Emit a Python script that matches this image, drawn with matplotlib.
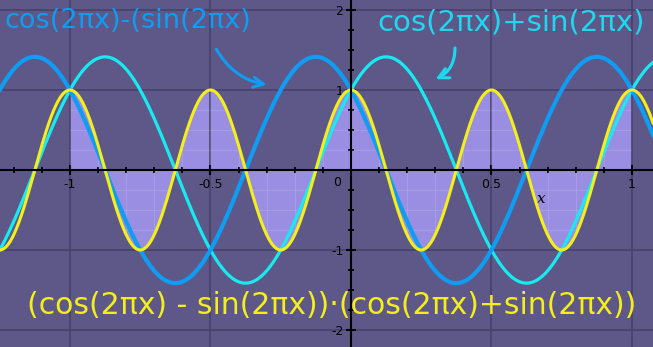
import numpy as np
import matplotlib
matplotlib.use('Agg')
import matplotlib.pyplot as plt
from matplotlib.ticker import MultipleLocator

# curves plotted in the picture
freq = 2 * np.pi
x_lo, x_hi = -1.249, 1.075
fill_lo, fill_hi = -1.0, 1.0

x = np.linspace(x_lo, x_hi, 1200)
minus = np.cos(freq * x) - np.sin(freq * x)
plus = np.cos(freq * x) + np.sin(freq * x)
prod = minus * plus

xticks = [-1, -0.5, 0.5, 1]
xlabels = ['-1', '-0.5', '0.5', '1']
yticks = [-2, -1, 1, 2]
ylabels = ['-2', '-1', '1', '2']

bg = '#5d5888'
fig = plt.figure(figsize=(6.53, 3.47), dpi=100)
fig.patch.set_facecolor(bg)
ax = fig.add_axes([0, 0, 1, 1])
ax.set_facecolor(bg)
ax.set_xlim(x_lo, x_hi)
ax.set_ylim(-2.2125, 2.125)

ax.xaxis.set_minor_locator(MultipleLocator(0.1))
ax.yaxis.set_minor_locator(MultipleLocator(0.25))
ax.set_xticks(xticks)
ax.set_yticks(yticks)
ax.grid(which='major', color='#47426c', lw=1.2, zorder=0)

# shaded area
m = (x >= fill_lo) & (x <= fill_hi)
shade = ax.fill_between(x[m], prod[m], 0, color='#9a8ee2', lw=0, zorder=1)

# faint minor grid, only seen inside the shading
clip = shade.get_paths()[0]
for v in np.arange(-1.2, 1.1, 0.1):
    ln = ax.axvline(v, color='white', alpha=0.12, lw=0.8, zorder=2)
    ln.set_clip_path(clip, ax.transData)
for h in np.arange(-2, 2.1, 0.25):
    ln = ax.axhline(h, color='white', alpha=0.12, lw=0.8, zorder=2)
    ln.set_clip_path(clip, ax.transData)

ax.plot(x, plus, color='#18eaf2', lw=2.3, zorder=4)
ax.plot(x, minus, color='#109cf2', lw=3.0, zorder=5)
ax.plot(x, prod, color='#f4ee1c', lw=2.2, zorder=6)

# axes through origin
for s in ['top', 'right']:
    ax.spines[s].set_visible(False)
for s in ['left', 'bottom']:
    ax.spines[s].set_position('zero')
    ax.spines[s].set_color('black')
    ax.spines[s].set_linewidth(1.5)
    ax.spines[s].set_zorder(7)
ax.set_xticklabels(xlabels, fontsize=9)
ax.set_yticklabels(ylabels, fontsize=9)
ax.tick_params(which='major', direction='inout', length=7, width=1.5, color='black', pad=2)
ax.tick_params(which='minor', direction='inout', length=5, width=1.3, color='black')
ax.text(-0.05, -0.16, '0', fontsize=9, ha='center', va='center')
ax.text(0.676, -0.36, 'x', fontsize=11, style='italic', family='DejaVu Serif',
        ha='center', va='center')

# handwritten notes
ax.text(-1.232, 1.86, 'cos(2πx)-(sin(2πx)', color='#109cf2', fontsize=19.5,
        ha='left', va='center', zorder=8)
ax.text(0.57, 1.84, 'cos(2πx)+sin(2πx)', color='#1ed8f0', fontsize=21,
        ha='center', va='center', zorder=8)
ax.text(-0.07, -1.69, '(cos(2πx) - sin(2πx))·(cos(2πx)+sin(2πx))', color='#f4ee1c',
        fontsize=21.5, ha='center', va='center', zorder=8)
ax.annotate('', xy=(-0.29, 1.06), xytext=(-0.484, 1.54),
            arrowprops=dict(arrowstyle='->', color='#109cf2', lw=2.2,
                            connectionstyle='arc3,rad=0.25', mutation_scale=18), zorder=8)
ax.annotate('', xy=(0.292, 1.12), xytext=(0.37, 1.56),
            arrowprops=dict(arrowstyle='->', color='#1ed8f0', lw=2.2,
                            connectionstyle='arc3,rad=-0.35', mutation_scale=18), zorder=8)

fig.savefig('out.png', dpi=100, facecolor=bg)
